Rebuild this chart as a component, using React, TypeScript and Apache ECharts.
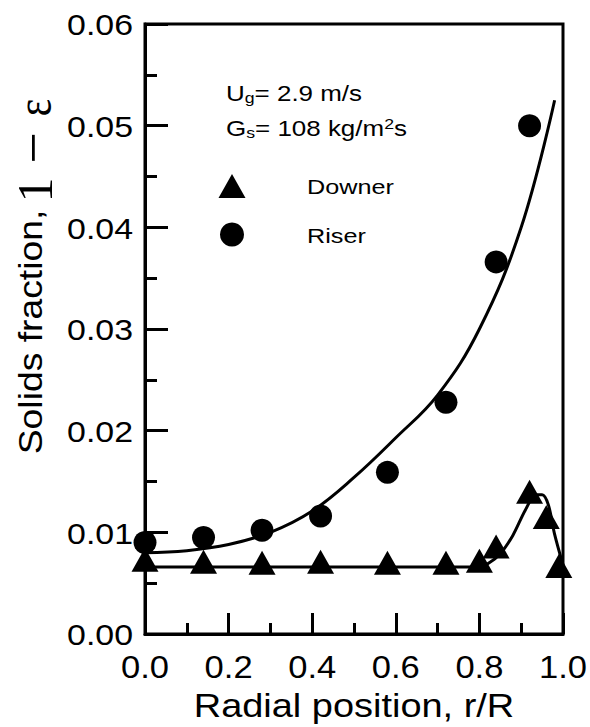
import React, { useEffect, useRef } from 'react';
import * as echarts from 'echarts';

// ---- data ----
const riserR = [0, 0.14, 0.28, 0.42, 0.58, 0.72, 0.84, 0.92];
const riserFrac = [0.009, 0.0095, 0.0102, 0.0116, 0.0159, 0.0228, 0.0366, 0.05];
const downerR = [0, 0.14, 0.28, 0.42, 0.58, 0.72, 0.8, 0.84, 0.92, 0.96, 0.99];
const downerFrac = [0.0073, 0.0071, 0.007, 0.0071, 0.007, 0.007, 0.0072, 0.0086, 0.014, 0.0115, 0.0067];
const riserFitR = [0, 0.1, 0.2, 0.3, 0.4, 0.5, 0.6, 0.7, 0.8, 0.9, 0.98];
const riserFitFrac = [0.008, 0.0082, 0.0088, 0.01, 0.0121, 0.0154, 0.0193, 0.0235, 0.03, 0.04, 0.0525];
const downerFitR = [0, 0.4, 0.7, 0.8, 0.82, 0.85, 0.88, 0.91, 0.935, 0.95, 0.965, 0.98, 1.0];
const downerFitFrac = [0.0066, 0.0066, 0.0066, 0.0066, 0.0069, 0.0079, 0.0097, 0.0122, 0.0137, 0.0137, 0.0127, 0.0098, 0.0068];
const xTicks = [0, 0.2, 0.4, 0.6, 0.8, 1.0];
const xTickLabels = ['0.0', '0.2', '0.4', '0.6', '0.8', '1.0'];
const yTicks = [0, 0.01, 0.02, 0.03, 0.04, 0.05, 0.06];
const yTickLabels = ['0.00', '0.01', '0.02', '0.03', '0.04', '0.05', '0.06'];
const seriesNames = ['Downer', 'Riser'];
const xTitle = 'Radial position, r/R';
const yTitleParts = ['Solids fraction,', '1', '−', 'ε'];

const SANS = '"Liberation Sans", Arial, Helvetica, sans-serif';
const SERIF = '"Liberation Serif", "Times New Roman", serif';

const pairs = (xs: number[], ys: number[]) => xs.map((x, i) => [x, ys[i]]);

export default function App() {
  const ref = useRef<HTMLDivElement>(null);
  useEffect(() => {
    if (!ref.current) return;
    const chart = echarts.init(ref.current, undefined, { renderer: 'svg' });
    const black = '#000';
    const axisCommon = {
      axisLine: { show: true, lineStyle: { color: black, width: 3 } },
      splitLine: { show: false },
      minorSplitLine: { show: false },
      axisLabel: { show: false },
    };
    chart.setOption({
      animation: false,
      backgroundColor: '#fff',
      grid: { left: 145, top: 24, width: 418, height: 610, show: true, borderColor: black, borderWidth: 3, containLabel: false },
      xAxis: {
        type: 'value', min: 0, max: 1, interval: 0.2,
        ...axisCommon,
        axisTick: { show: true, inside: true, length: 21, lineStyle: { color: black, width: 3 } },
        minorTick: { show: true, splitNumber: 2, length: 11, lineStyle: { color: black, width: 3 } },
      },
      yAxis: {
        type: 'value', min: 0, max: 0.06, interval: 0.01,
        ...axisCommon,
        axisTick: { show: true, inside: true, length: 23, lineStyle: { color: black, width: 3 } },
        minorTick: { show: true, splitNumber: 2, length: 12, lineStyle: { color: black, width: 3 } },
      },
      series: [
        {
          name: 'Riser fit', type: 'line', data: pairs(riserFitR, riserFitFrac), showSymbol: false,
          smooth: 0.4, lineStyle: { color: black, width: 3 }, silent: true, z: 2,
        },
        {
          name: 'Downer fit', type: 'line', data: pairs(downerFitR, downerFitFrac), showSymbol: false,
          smooth: 0.3, lineStyle: { color: black, width: 3 }, silent: true, z: 2,
        },
        {
          name: seriesNames[1], type: 'scatter', data: pairs(riserR, riserFrac), symbol: 'circle', symbolSize: 23,
          itemStyle: { color: black, opacity: 1 }, z: 3,
        },
        {
          name: seriesNames[0], type: 'scatter', data: pairs(downerR, downerFrac), symbol: 'triangle', symbolSize: [27, 24],
          itemStyle: { color: black, opacity: 1 }, z: 3,
        },
      ],
    });

    const g: any[] = [];
    const txt = (x: number, y: number, text: string, fontSize: number, scaleX: number, align: string, extra: any = {}, family = SANS, rotation = 0) => ({
      type: 'text', x, y, scaleX, rotation, silent: true, z: 10,
      style: { text, fontSize, fontFamily: family, fill: black, textAlign: align, textVerticalAlign: 'middle', ...extra },
    });
    xTicks.forEach((v, i) => {
      const p = chart.convertToPixel({ gridIndex: 0 }, [v, 0]) as number[];
      g.push(txt(p[0], p[1] + 33, xTickLabels[i], 32, 1.08, 'center'));
    });
    yTicks.forEach((v, i) => {
      const p = chart.convertToPixel({ gridIndex: 0 }, [0, v]) as number[];
      g.push(txt(p[0] - 12, p[1] + 1, yTickLabels[i], 30, 1.13, 'right'));
    });
    const mid = chart.convertToPixel({ gridIndex: 0 }, [0.5, 0]) as number[];
    g.push(txt(mid[0], 706, xTitle, 33, 1.15, 'center'));
    // y axis title, rotated, built from pieces
    g.push(txt(30.5, 332, yTitleParts[0], 33, 1.13, 'center', {}, SANS, Math.PI / 2));
    g.push(txt(35, 190, yTitleParts[1], 50, 1, 'center', {}, SERIF, Math.PI / 2));
    g.push(txt(33, 148, yTitleParts[2], 56, 1, 'center', {}, SERIF, Math.PI / 2));
    g.push(txt(34.5, 107.5, yTitleParts[3], 50, 0.85, 'center', {}, SERIF, Math.PI / 2));

    const sub = { fontSize: 15, lineHeight: 15, fontFamily: SANS, fill: black, verticalAlign: 'bottom', textVerticalAlign: 'bottom' };
    const sup = { fontSize: 15, lineHeight: 2, fontFamily: SANS, fill: black, verticalAlign: 'top', textVerticalAlign: 'top' };
    g.push(txt(226, 93, 'U{sub|g}= 2.9 m/s', 22, 1.18, 'left', { lineHeight: 24, rich: { sub } }));
    g.push(txt(226, 128, 'G{sub|s}= 108 kg/m{sup|2}s', 22, 1.18, 'left', { lineHeight: 24, rich: { sub, sup } }));

    // legend
    g.push({ type: 'polygon', silent: true, shape: { points: [[218.5, 198], [245.5, 198], [232, 174]] }, style: { fill: black } });
    g.push({ type: 'circle', silent: true, shape: { cx: 232, cy: 234.5, r: 12 }, style: { fill: black } });
    g.push(txt(307, 187, seriesNames[0], 21, 1.2, 'left'));
    g.push(txt(307, 236, seriesNames[1], 21, 1.2, 'left'));

    chart.setOption({ graphic: g });
    return () => chart.dispose();
  }, []);
  return <div ref={ref} style={{ position: 'absolute', left: 0, top: 0, width: 590, height: 727, background: '#fff' }} />;
}
